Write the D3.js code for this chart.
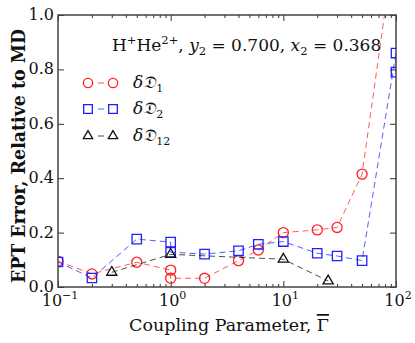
<!DOCTYPE html>
<html><head><meta charset="utf-8">
<script src="https://cdn.jsdelivr.net/npm/d3@7"></script>
<style>
body{margin:0;background:#fff;}
text{font-family:"DejaVu Serif","Liberation Serif",serif;}
</style></head>
<body><svg id="c" width="415" height="343"></svg>
<script>
// ---- data ----
const d1X = [0.1, 0.2, 0.5, 1, 1, 2, 4, 6, 10, 20, 30, 50, 100];
const d1Y = [0.095, 0.048, 0.091, 0.062, 0.032, 0.032, 0.097, 0.136, 0.200, 0.210, 0.219, 0.415, 1.30];
const d2X = [0.1, 0.2, 0.5, 1, 1, 2, 4, 6, 10, 20, 30, 50, 100, 100];
const d2Y = [0.092, 0.033, 0.176, 0.165, 0.128, 0.121, 0.133, 0.157, 0.167, 0.124, 0.114, 0.097, 0.86, 0.79];
const d12X = [0.3, 1, 10, 25];
const d12Y = [0.054, 0.120, 0.102, 0.022];
const xTicks = [0.1, 1, 10, 100];
const xTickExp = ["−1", "0", "1", "2"];
const yTicks = [0.0, 0.2, 0.4, 0.6, 0.8, 1.0];

const svg = d3.select("#c");
const L = 58, R = 396, T = 15, B = 287;
const x = d3.scaleLog().domain([0.1, 100]).range([L, R]);
const y = d3.scaleLinear().domain([0, 1]).range([B, T]);

svg.append("defs").append("clipPath").attr("id", "clip")
  .append("rect").attr("x", L).attr("y", T).attr("width", R - L).attr("height", B - T);

const minor = [];
for (let e = -1; e < 2; e++) for (let k = 2; k <= 9; k++) minor.push(k * Math.pow(10, e));

const axisColor = "#333";
const gxB = svg.append("g").attr("transform", `translate(0,${B})`)
  .call(d3.axisBottom(x).tickValues(xTicks).tickSize(-6).tickFormat(""));
const gxBm = svg.append("g").attr("transform", `translate(0,${B})`)
  .call(d3.axisBottom(x).tickValues(minor).tickSize(-3).tickFormat(""));
const gxT = svg.append("g").attr("transform", `translate(0,${T})`)
  .call(d3.axisTop(x).tickValues(xTicks).tickSize(-6).tickFormat(""));
const gxTm = svg.append("g").attr("transform", `translate(0,${T})`)
  .call(d3.axisTop(x).tickValues(minor).tickSize(-3).tickFormat(""));
const gyL = svg.append("g").attr("transform", `translate(${L},0)`)
  .call(d3.axisLeft(y).tickValues(yTicks).tickSize(-6).tickFormat(""));
const gyR = svg.append("g").attr("transform", `translate(${R},0)`)
  .call(d3.axisRight(y).tickValues(yTicks).tickSize(-6).tickFormat(""));
[gxB, gxBm, gxT, gxTm, gyL, gyR].forEach(g => {
  g.select(".domain").remove();
  g.selectAll("line").attr("stroke", axisColor).attr("stroke-width", 1);
});

svg.append("rect").attr("x", L).attr("y", T).attr("width", R - L).attr("height", B - T)
  .attr("fill", "none").attr("stroke", "#444").attr("stroke-width", 1.5);

// tick labels
const fs = 16;
xTicks.forEach((v, i) => {
  const t = svg.append("text").attr("x", x(v) + 2).attr("y", B + 19).attr("text-anchor", "middle")
    .attr("font-size", fs).attr("fill", "#111");
  t.append("tspan").text("10");
  t.append("tspan").attr("dy", -7).attr("font-size", 11).text(xTickExp[i]);
});
yTicks.forEach(v => {
  svg.append("text").attr("x", L - 4).attr("y", y(v) + 5).attr("text-anchor", "end")
    .attr("font-size", fs).attr("fill", "#111").text(v.toFixed(1));
});

// axis labels
const xl = svg.append("text").attr("x", 229).attr("y", 331).attr("text-anchor", "middle")
  .attr("font-size", 17.5).attr("fill", "#111");
xl.append("tspan").text("Coupling Parameter, ");
xl.append("tspan").attr("text-decoration", "overline").text("Γ");
svg.append("text").attr("transform", `translate(25,156) rotate(-90)`)
  .attr("text-anchor", "middle").attr("font-size", 18).attr("font-weight", "bold")
  .attr("textLength", 254).attr("lengthAdjust", "spacingAndGlyphs")
  .attr("fill", "#111").text("EPT Error, Relative to MD");

// title annotation
const tt = svg.append("text").attr("x", 112).attr("y", 51).attr("font-size", 17).attr("fill", "#111");
tt.append("tspan").text("H");
tt.append("tspan").attr("dy", -7).attr("font-size", 11.5).text("+");
tt.append("tspan").attr("dy", 7).text("He");
tt.append("tspan").attr("dy", -7).attr("font-size", 11.5).text("2+");
tt.append("tspan").attr("dy", 7).text(", ");
tt.append("tspan").attr("font-style", "italic").text("y");
tt.append("tspan").attr("dy", 4).attr("font-size", 11.5).text("2");
tt.append("tspan").attr("dy", -4).text(" = 0.700, ");
tt.append("tspan").attr("font-style", "italic").text("x");
tt.append("tspan").attr("dy", 4).attr("font-size", 11.5).text("2");
tt.append("tspan").attr("dy", -4).text(" = 0.368");

// series
const series = [
  {xs: d1X, ys: d1Y, color: "#ff2020", sym: d3.symbolCircle, size: 80, name: "1"},
  {xs: d2X, ys: d2Y, color: "#2020ff", sym: d3.symbolSquare, size: 88, name: "2"},
  {xs: d12X, ys: d12Y, color: "#111", sym: d3.symbolTriangle, size: 45, name: "12"}
];
const plot = svg.append("g").attr("clip-path", "url(#clip)");
const line = d3.line().x(d => x(d[0])).y(d => y(d[1]));
series.forEach(s => {
  const pts = s.xs.map((v, i) => [v, s.ys[i]]);
  plot.append("path").attr("d", line(pts)).attr("fill", "none").attr("stroke", s.color)
    .attr("stroke-width", 1).attr("stroke-dasharray", "6,4").attr("opacity", 0.75);
  plot.selectAll(null).data(pts).enter().append("path")
    .attr("d", d3.symbol().type(s.sym).size(s.size))
    .attr("transform", d => `translate(${x(d[0])},${y(d[1])})`)
    .attr("fill", "none").attr("stroke", s.color).attr("stroke-width", 1.3);
});

// legend
const legY = [83, 109, 136];
series.forEach((s, i) => {
  const g = svg.append("g");
  g.append("line").attr("x1", 98).attr("x2", 104).attr("y1", legY[i]).attr("y2", legY[i])
    .attr("stroke", s.color).attr("opacity", 0.75);
  [88, 113].forEach(cx => g.append("path")
    .attr("d", d3.symbol().type(s.sym).size(s.size * 0.85))
    .attr("transform", `translate(${cx},${legY[i]})`)
    .attr("fill", "none").attr("stroke", s.color).attr("stroke-width", 1.3));
  const t = g.append("text").attr("x", 133).attr("y", legY[i] + 5).attr("font-size", 17).attr("fill", "#111");
  t.append("tspan").attr("font-style", "italic").text("δ𝔇");
  t.append("tspan").attr("dy", 4).attr("font-size", 11).text(s.name);
});
</script></body></html>
